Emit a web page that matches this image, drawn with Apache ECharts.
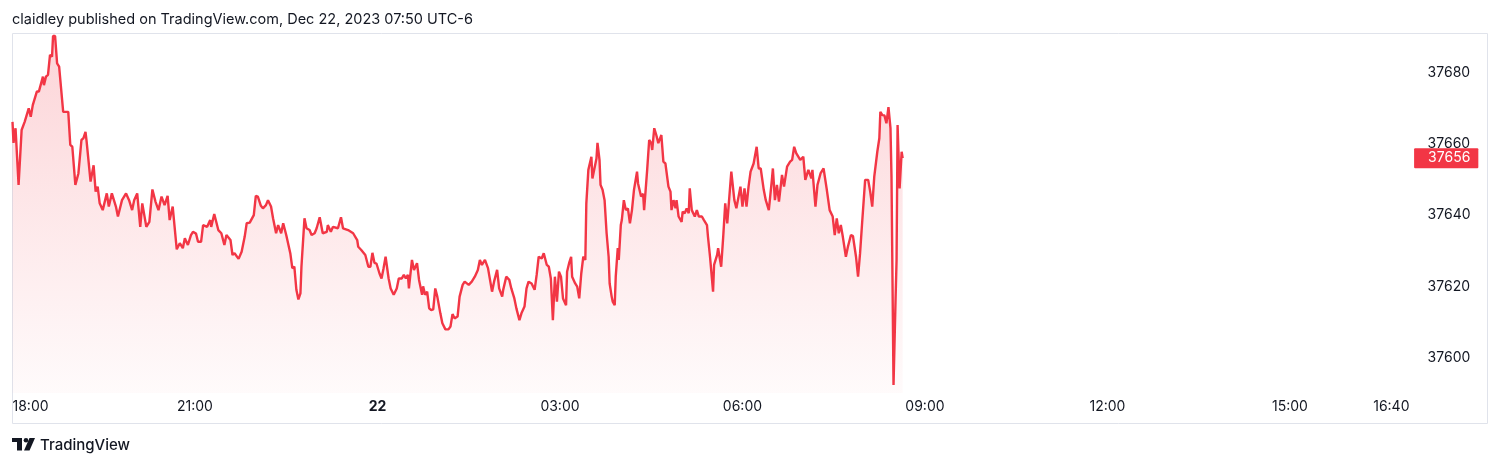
<!DOCTYPE html>
<html>
<head>
<meta charset="utf-8">
<script src="https://cdn.jsdelivr.net/npm/echarts@6/dist/echarts.min.js"></script>
<style>
html,body{margin:0;padding:0;background:#fff;}
#chart{width:1500px;height:466px;}
</style>
</head>
<body>
<div id="chart"></div>
<script>
// minutes since 18:00 (Dec 21)
const times = [0,1,3,6,9,12,16,18,20,24,26,30,31,33,35,37,39,40,42,44,46,50,55,57,59,62,65,68,70,72,73,77,80,82,84,86,89,93,95,98,99,102,104,108,112,115,118,120,123,126,128,132,135,138,141,144,147,150,153,155,158,162,165,168,170,173,
176,178,181,183,186,188,192,195,196,199,203,206,209,211,215,217,219,223,226,229,231,234,238,240,242,245,247,250,252,255,257,260,262,265,267,270,274,276,278,280,282,284,285,288,290,293,295,298,300,303,306,310,311,314,316,321,324,326,331,336,340,341,344,348,
351,353,355,357,359,362,364,366,368,371,373,376,379,381,384,386,388,390,391,394,396,399,401,404,405,407,409,411,413,415,417,419,422,424,427,430,432,434,436,439,441,444,446,450,453,456,459,461,463,466,469,471,473,475,478,480,483,484,487,490,492,495,497,500,502,505,507,509,512,515,517,519,522,524,527,
529,531,533,535,537,539,541,543,546,547,549,551,552,555,557,559,561,563,565,566,568,571,572,574,576,577,579,580,582,584,586,588,589,591,592,594,595,597,598,600,601,603,605,607,609,611,613,616,617,620,622,623,626,628,630,631,633,635,637,640,642,644,647,649,650,652,654,655,657,660,661,663,665,667,668,670,673,675,677,680,682,685,686,688,689,691,692,695,696,699,701,703,705,
709,712,714,718,720,722,724,726,728,731,734,736,738,741,743,746,749,750,752,754,756,759,761,764,767,769,771,773,777,780,782,785,788,789,792,794,797,800,803,806,809,811,813,815,817,819,822,824,827,829,832,834,836,838,841,844,846,848,850,853,855,856,858,860,862,864,866,867,869,871,872,873,875,877,878];

const prices = [37666.2,37660.3,37664.4,37648.5,37663.9,37666.2,37670,37667.6,37670.9,37674.7,37674.7,37678.9,37676.5,37678.9,37679.4,37685,37684.5,37690.3,37690.3,37682.6,37681.7,37669,37669,37659.7,37659.2,37648.5,37651.7,37661.1,37661.6,37663.4,37661,37649.4,37654,37646.6,37648,37643.3,37641.4,37646.1,37642.4,37646.1,37646,37642.4,37639.6,37644.2,37646.1,37644.2,37641.4,37644.2,37646.1,37636.7,37643.3,37636.7,37638.1,37647.2,37643.8,37641.4,37645.2,37642.8,37645.4,37638.6,37642.4,37630.4,37632.1,37630.7,37633.5,37631.6,
37634.4,37635.3,37634.8,37632.5,37632.5,37637.2,37636.7,37638.6,37636.7,37640.3,37635.8,37634.9,37631.6,37634.4,37633,37628.8,37629.3,37627.7,37629.7,37633.9,37637.7,37637.9,37640,37645.4,37645.2,37642.6,37641.9,37642.8,37644.2,37642.4,37639.1,37634.9,37637.2,37634.9,37637.7,37634.4,37629.3,37625.1,37625.5,37619,37616.3,37618,37625.5,37639.1,37636.3,37635.8,37634.4,37634.9,37636.3,37639.4,37634.9,37635.3,37637.2,37635.3,37636.7,37636.3,37639.4,37636.3,37635.8,37634.9,37633,37631.1,37630.2,37628.8,
37625.5,37625.5,37629.4,37626.6,37626.4,37623.6,37622.2,37625.1,37628.3,37622.2,37619.4,37617.6,37619.4,37622.2,37622.2,37623.2,37622.2,37623.2,37619.4,37627.4,37624.6,37626.5,37621.8,37617.6,37620,37617.6,37618.5,37613.8,37613.3,37613.5,37619.4,37617.1,37612.4,37609.6,37607.9,37607.9,37608.7,37612.2,37611,37611.5,37617.1,37620.4,37621.3,37620.4,37621.3,37622.7,37624.6,37627.4,37626,37627.4,37625.1,37621.8,37618.5,37621.3,37624.6,37619.4,37617.1,37619,37622.7,37621.8,37619.4,37616.6,37613.8,37610.5,37612.4,37614.3,37619.4,37621.3,37620.8,37619,37623.2,37628.3,37627.8,37629.3,37626,
37625.5,37622.2,37610.5,37622.7,37615.7,37624.1,37622.7,37616.6,37614.7,37624.1,37626.5,37628.3,37622.7,37620.8,37619.9,37616.6,37623.6,37628.3,37627.4,37643.3,37652.7,37656.4,37650.3,37653.1,37655.9,37660.3,37655.5,37648.5,37647.1,37644.2,37634.9,37628.3,37620.8,37617.1,37615.7,37614.7,37622.7,37630.7,37627.4,37637.2,37638.6,37644.2,37641.4,37641.9,37637.7,37641.4,37647.1,37652.2,37648.9,37645.2,37646,37641.4,37652.7,37661.1,37660.2,37658.3,37664.4,37662.5,37660.2,37662.5,37655,37654.5,37648,37646.6,37641.4,37644.2,37641.9,37644.2,37639.6,37638.1,37641,37640.5,37641.9,37640.5,37647.5,37641.4,37639.6,37641.4,37639.6,37639.6,37638.6,37637.2,37633.9,37628.3,37628.8,37618.5,37626,37628.8,37630.7,37625.5,37633.9,37643.3,37637.7,
37652.2,37644.2,37641.9,37648,37642.4,37647.5,37642.4,37648,37652.2,37654.5,37659.2,37653.1,37653.1,37647.1,37644.2,37641.4,37649.9,37653.1,37644.2,37648.5,37643.8,37651.3,37648,37653.6,37655,37655.5,37659.2,37657.4,37655.5,37656.4,37649.9,37652.7,37650.3,37652.7,37642.4,37648.5,37651.7,37653.1,37647.5,37641.4,37639.6,37634.4,37639.1,37634.9,37637.2,37633.9,37628.3,37631.1,37634.4,37634.1,37628.3,37622.7,37629.3,37637.7,37649.9,37649.9,37646.6,37642.4,37650.8,37657.8,37661.6,37669,37668.1,37668,37665.8,37670.3,37664.4,37650.8,37592.3,37616.2,37627.4,37665.3,37647.5,37657.8,37656];

const xTickMinutes = [0,180,360,540,720,900,1080,1260,1360];
const xTickLabels = ['18:00','21:00','22','03:00','06:00','09:00','12:00','15:00','16:40'];
const yTickValues = [37600,37620,37640,37660,37680];
const lastPrice = 37656;

const FONT = 'Inter, "Noto Sans", sans-serif';
const RED = '#F23645';
const TXT = '#131722';

const seriesData = times.map((t, i) => [t, prices[i]]);

const chart = echarts.init(document.getElementById('chart'), null, {renderer: 'canvas'});
chart.setOption({
  animation: false,
  backgroundColor: '#ffffff',
  title: {
    text: 'claidley published on TradingView.com, Dec 22, 2023 07:50 UTC-6',
    left: 7, top: 7,
    textStyle: {fontSize: 14.5, fontWeight: 400, color: TXT, fontFamily: FONT}
  },
  grid: {left: 12.5, right: 88.4, top: 1.5, bottom: 72.9, containLabel: false, outerBoundsMode: 'none'},
  xAxis: {
    type: 'value', min: 0, max: 1380, interval: 20,
    axisLine: {show: false}, axisTick: {show: false}, splitLine: {show: false},
    axisLabel: {
      show: true, margin: 7, showMinLabel: true, showMaxLabel: false,
      alignMinLabel: 'left',
      fontSize: 14, color: TXT, fontFamily: FONT,
      formatter: function (v) {
        const i = xTickMinutes.indexOf(Math.round(v));
        if (i < 0) return '';
        const s = xTickLabels[i];
        return s.indexOf(':') < 0 ? '{b|' + s + '}' : s;
      },
      rich: {b: {fontWeight: 700, fontSize: 14, color: TXT, fontFamily: FONT}}
    }
  },
  yAxis: {
    type: 'value', position: 'right', min: 37590, max: 37700, interval: 10,
    axisLine: {show: false}, axisTick: {show: false}, splitLine: {show: false},
    axisLabel: {
      margin: 16, fontSize: 14, color: TXT, fontFamily: FONT, align: 'left',
      formatter: function (v) {
        return yTickValues.indexOf(Math.round(v)) >= 0 ? String(Math.round(v)) : '';
      }
    }
  },
  series: [{
    type: 'line',
    data: seriesData,
    showSymbol: false,
    symbol: 'none',
    lineStyle: {color: RED, width: 2.4},
    areaStyle: {
      color: new echarts.graphic.LinearGradient(0, 0, 0, 1, [
        {offset: 0, color: 'rgba(242,54,69,0.30)'},
        {offset: 1, color: 'rgba(242,54,69,0.03)'}
      ])
    },
    markLine: {
      silent: true,
      symbol: 'none',
      lineStyle: {color: 'rgba(242,54,69,0)', width: 1, type: 'solid'},
      label: {
        show: true, position: 'end', distance: 2.5,
        formatter: function () { return String(lastPrice); },
        backgroundColor: RED, color: '#ffffff', opacity: 1,
        fontSize: 14, fontFamily: FONT, lineHeight: 16,
        padding: [2, 8, 2, 14], borderRadius: 1
      },
      data: [{yAxis: lastPrice}]
    },
    z: 3
  }],
  graphic: [
    {type: 'rect', silent: true, z: 0,
     shape: {x: 12.5, y: 33.5, width: 1475, height: 390},
     style: {fill: 'none', stroke: '#e0e3eb', lineWidth: 1}},
    {type: 'group', silent: true, children: [
      {type: 'rect', shape: {x: 12, y: 438, width: 10, height: 4}, style: {fill: TXT}},
      {type: 'rect', shape: {x: 17, y: 438, width: 5, height: 12.5}, style: {fill: TXT}},
      {type: 'circle', shape: {cx: 26, cy: 440.3, r: 2.3}, style: {fill: TXT}},
      {type: 'polygon', shape: {points: [[24, 450.5], [29.5, 450.5], [35, 438], [29.5, 438]]}, style: {fill: TXT}}
    ]},
    {type: 'text', silent: true, x: 40, y: 445,
     style: {text: 'TradingView', fill: TXT, font: '500 15px ' + FONT, textVerticalAlign: 'middle', verticalAlign: 'middle'}}
  ]
});
</script>
</body>
</html>
